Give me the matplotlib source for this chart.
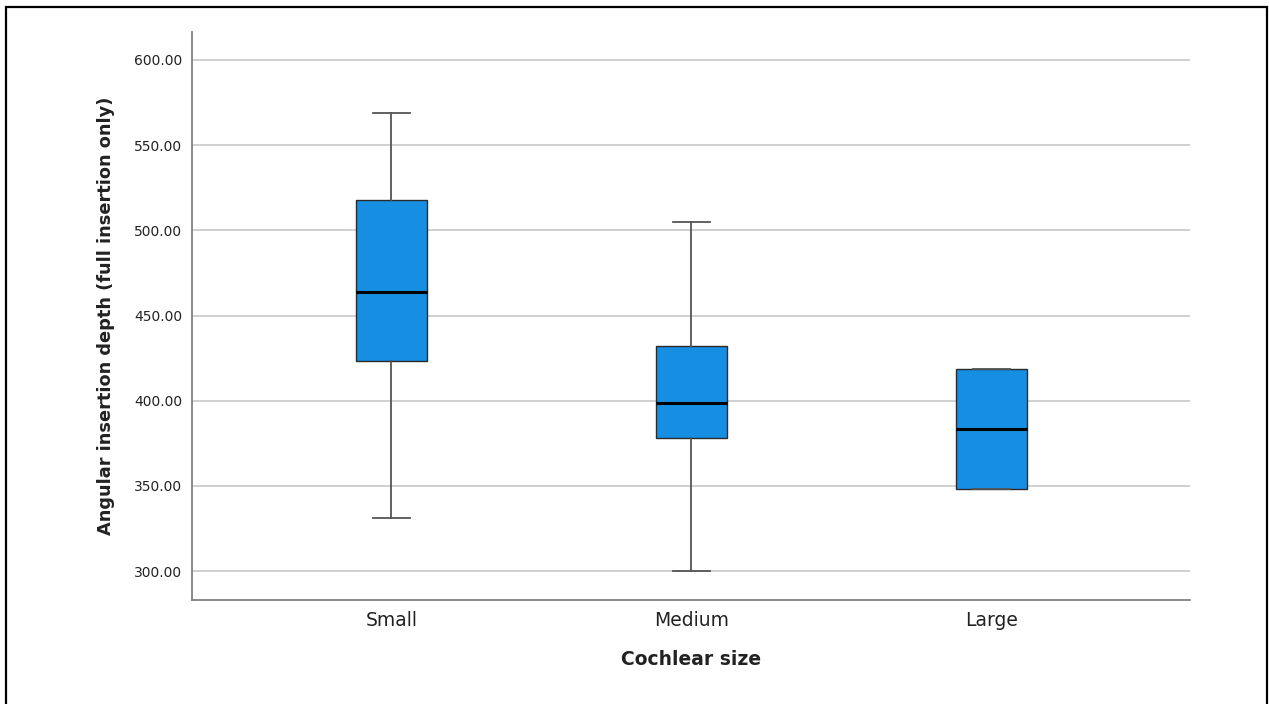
import numpy as np
import matplotlib.pyplot as plt
from matplotlib.patches import Rectangle

# Box statistics
categories = ["Small", "Medium", "Large"]
whisker_low = [331.0, 300.0, 348.0]
q1 = [423.3, 378.1, 348.0]
median = [463.8, 398.6, 383.4]
q3 = [517.8, 432.1, 418.6]
whisker_high = [568.9, 504.9, 418.6]

yticks = [300, 350, 400, 450, 500, 550, 600]

fig = plt.figure(figsize=(12.69, 7.04), dpi=100)
ax = fig.add_axes([0.1513, 0.1477, 0.7864, 0.8068])

stats = []
for i in range(len(categories)):
    stats.append(dict(whislo=whisker_low[i], q1=q1[i], med=median[i],
                      q3=q3[i], whishi=whisker_high[i], fliers=[]))

ax.bxp(stats, positions=np.arange(len(categories)), widths=0.237,
       patch_artist=True, showfliers=False, capwidths=0.123,
       boxprops=dict(facecolor="#168fe3", edgecolor="#2a2a2a", linewidth=1.0),
       medianprops=dict(color="black", linewidth=2.2),
       whiskerprops=dict(color="#555555", linewidth=1.3),
       capprops=dict(color="#555555", linewidth=1.3), zorder=3)

ax.set_xlim(-0.665, 2.662)
ax.set_ylim(283.0, 616.4)
ax.set_yticks(yticks)
ax.set_yticklabels([f"{v:.2f}" for v in yticks], fontsize=10, color="#222222")
ax.set_xticks(np.arange(len(categories)))
ax.set_xticklabels(categories, fontsize=13.5, color="#222222")
ax.tick_params(axis="both", length=0)
ax.tick_params(axis="y", pad=7)
ax.tick_params(axis="x", pad=8)

ax.yaxis.grid(True, color="#c8c8c8", linewidth=1.2, zorder=0)
ax.set_axisbelow(True)
for side in ["top", "right"]:
    ax.spines[side].set_visible(False)
for side in ["left", "bottom"]:
    ax.spines[side].set_color("#777777")
    ax.spines[side].set_linewidth(1.2)

ax.set_ylabel("Angular insertion depth (full insertion only)", fontsize=12.8,
              fontweight="bold", color="#222222", labelpad=14)
ax.set_xlabel("Cochlear size", fontsize=13.5, fontweight="bold",
              color="#222222", labelpad=14)

# outer frame
fig.patches.append(Rectangle((6 / 1269, -0.05), 1261 / 1269, 1.05 - 7 / 704,
                             transform=fig.transFigure, fill=False,
                             edgecolor="black", linewidth=1.6))

fig.savefig("out.png", dpi=100)
